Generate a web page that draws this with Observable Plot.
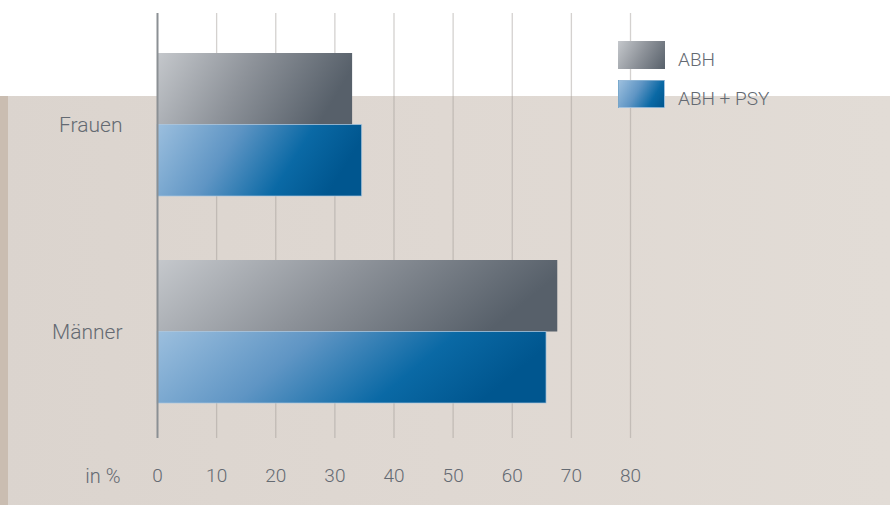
<!DOCTYPE html>
<html>
<head>
<meta charset="utf-8">
<script src="https://cdn.jsdelivr.net/npm/d3@7"></script>
<script src="https://cdn.jsdelivr.net/npm/@observablehq/plot@0.6"></script>
<style>
  body { margin: 0; background: #fff; }
  #chart {
    position: relative; width: 890px; height: 505px; overflow: hidden; background: #fff;
    font-family: Roboto, "Noto Sans", sans-serif; font-weight: 300; color: #646a72;
  }
  .panel { position: absolute; left: 0; top: 96px; width: 890px; height: 409px;
    background: linear-gradient(90deg, #dbd4ce 0%, #dfd8d2 50%, #e2dcd6 100%); }
  .strip { position: absolute; left: 0; top: 96px; width: 8px; height: 409px; background: #cabdb1; }
  #plot { position: absolute; left: 0; top: 0; }
  .legend { position: absolute; left: 618px; top: 41px; }
  .legend .item { position: relative; height: 39px; }
  .legend .sw { position: absolute; left: 0; top: 0; width: 47px; height: 28px; box-sizing: border-box; }
  .legend .lbl { position: absolute; left: 60px; top: 9px; font-size: 19px; line-height: 19px; white-space: nowrap; }
</style>
</head>
<body>
<div id="chart">
  <div class="panel"></div>
  <div class="strip"></div>
  <div id="plot"></div>
  <div class="legend" id="legend"></div>
</div>
<script>
// Share of people (in %) by sex, two diagnosis groups
const groups = ["Frauen", "Männer"];
const seriesNames = ["ABH", "ABH + PSY"];
const abhValues = [33.0, 67.7];
const abhPsyValues = [34.6, 65.8];
const xTicks = [0, 10, 20, 30, 40, 50, 60, 70, 80];
const unitLabel = "in %";

const gradientStops = {
  "grad-abh": [[0, "#c5c8cc"], [0.5, "#8d9299"], [1, "#57606a"]],
  "grad-psy": [[0, "#9cbfde"], [0.4, "#5f95c4"], [0.74, "#0a69a5"], [1, "#00568f"]]
};

const rowsAbh = groups.map((g, i) => ({group: g, series: seriesNames[0], value: abhValues[i]}));
const rowsPsy = groups.map((g, i) => ({group: g, series: seriesNames[1], value: abhPsyValues[i]}));

// each category band holds two stacked bars; each takes half of the band
const half = 71.5;

function gradientDefs() {
  return () => {
    const defs = d3.create("svg:defs");
    for (const [id, stops] of Object.entries(gradientStops)) {
      const lg = defs.append("linearGradient").attr("id", id)
        .attr("x1", 0).attr("y1", 0).attr("x2", 1).attr("y2", 0.22);
      for (const [o, c] of stops) lg.append("stop").attr("offset", o).attr("stop-color", c);
    }
    return defs.node();
  };
}

const textColor = "#646a72";

const chart = Plot.plot({
  width: 890,
  height: 505,
  marginLeft: 157,
  marginRight: 260,
  marginTop: 13,
  marginBottom: 67,
  style: {background: "transparent", fontFamily: "Roboto, 'Noto Sans', sans-serif", fontSize: "20px", color: textColor, fontWeight: 300},
  x: {domain: [0, 80]},
  y: {domain: groups, paddingInner: 0.311, paddingOuter: 0.1795, align: 0.537},
  marks: [
    gradientDefs(),
    Plot.ruleX(xTicks.filter(t => t > 0), {stroke: "#9f9a95", strokeOpacity: 0.45, strokeWidth: 1.3}),
    Plot.barX(rowsAbh, {x: "value", y: "group", fill: "url(#grad-abh)", insetBottom: half}),
    Plot.barX(rowsPsy, {x: "value", y: "group", fill: "url(#grad-psy)", insetTop: half,
      stroke: "#a9c6e0", strokeOpacity: 0.7, strokeWidth: 1}),
    Plot.ruleX([0], {stroke: "#8b9094", strokeWidth: 2}),
    Plot.axisX({ticks: xTicks, tickSize: 0, tickPadding: 30, label: null, fill: textColor, fontSize: 19, tickFormat: d => d}),
    Plot.axisY({tickSize: 0, tickPadding: 35, label: null, fill: textColor, fontSize: 21}),
    Plot.text([unitLabel], {frameAnchor: "bottom-left", textAnchor: "end", lineAnchor: "top",
      dx: -37, dy: 30, fill: textColor, fontSize: 20})
  ]
});
document.getElementById("plot").appendChild(chart);

// legend
const legend = d3.select("#legend");
const swatchCss = {
  "grad-abh": "linear-gradient(120deg, #c5c8cc 0%, #8d9299 50%, #57606a 100%)",
  "grad-psy": "linear-gradient(120deg, #9cbfde 0%, #5f95c4 40%, #0a69a5 74%, #00568f 100%)"
};
seriesNames.forEach((name, i) => {
  const id = i === 0 ? "grad-abh" : "grad-psy";
  const item = legend.append("div").attr("class", "item");
  item.append("div").attr("class", "sw").style("background", swatchCss[id])
    .style("border", i === 1 ? "1px solid rgba(169,198,224,0.7)" : "none");
  item.append("div").attr("class", "lbl").text(name);
});
</script>
</body>
</html>
